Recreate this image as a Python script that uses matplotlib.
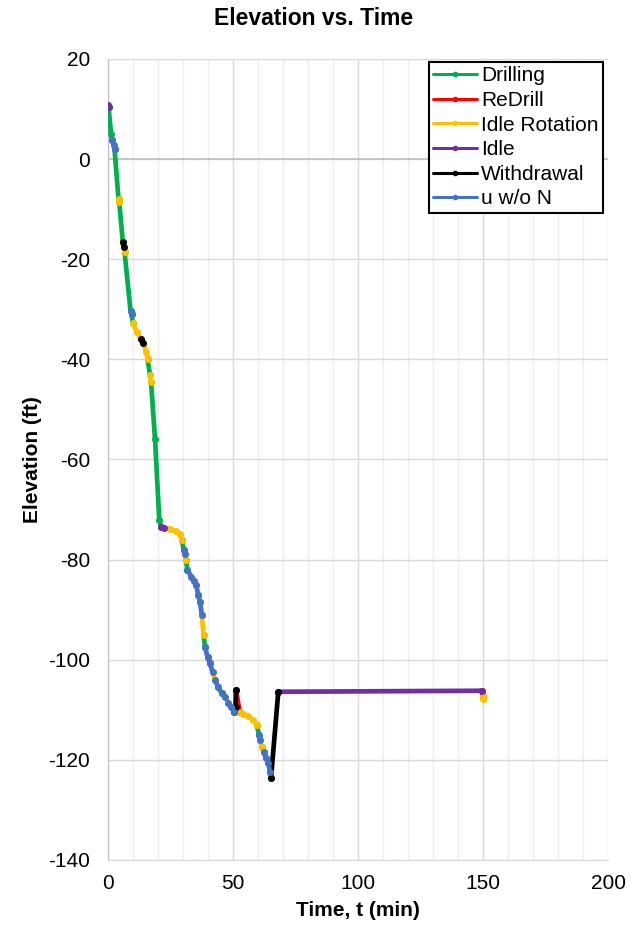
import numpy as np
import matplotlib
matplotlib.use("Agg")
import matplotlib.pyplot as plt
from matplotlib.ticker import MultipleLocator

plt.rcParams['font.family'] = ['Liberation Sans', 'DejaVu Sans']
plt.rcParams['axes.unicode_minus'] = False

# readings along the pile path: time (min), elevation (ft), phase of segment starting at the point
time = [0.0, 0.2, 1.2, 1.7, 2.3, 2.6, 4.2, 4.5, 5.9, 6.3, 6.6, 9.0, 9.4, 10.0, 11.5, 13.1,
        14.0, 15.3, 15.8, 16.8, 17.2, 18.8, 20.5, 21.2, 22.5, 24.8, 27.0, 28.6, 29.5,
        30.3, 30.8, 31.2, 31.7, 33.3, 34.5, 35.3, 36.0, 36.8, 37.5, 38.2, 38.8, 39.8,
        40.8, 41.8, 42.8, 44.0, 45.5, 46.8, 48.1, 49.3, 50.4, 51.0, 51.2, 52.6, 54.0,
        56.1, 58.1, 59.5, 60.4, 60.8, 61.6, 62.3, 63.2, 64.1, 64.8, 65.2, 68.1, 149.6,
        149.9, 150.1]
elev = [10.8, 10.4, 5.0, 3.8, 2.8, 2.0, -8.0, -8.6, -16.6, -17.6, -18.5, -30.3, -31.0, -32.8,
        -34.5, -36.0, -36.8, -38.5, -40.0, -43.1, -44.5, -56.0, -72.0, -73.4, -73.6,
        -73.9, -74.3, -74.9, -76.0, -78.0, -78.8, -80.0, -82.0, -83.4, -84.2, -85.0,
        -87.0, -88.5, -91.0, -95.0, -97.4, -99.5, -100.7, -102.5, -104.0, -105.5,
        -106.7, -107.5, -108.7, -109.5, -110.5, -109.5, -106.0, -110.4, -110.8, -111.3,
        -112.0, -113.0, -115.0, -116.0, -117.5, -118.5, -119.7, -120.6, -122.5, -123.6,
        -106.4, -106.2, -107.3, -107.8]
phase = ['Idle', 'Drilling', 'Drilling', 'u w/o N', 'u w/o N', 'Drilling', 'Idle Rotation',
         'Drilling', 'Withdrawal', 'Idle Rotation', 'Drilling', 'u w/o N', 'Drilling',
         'Idle Rotation', 'Idle Rotation', 'Withdrawal', 'Idle Rotation', 'Idle Rotation',
         'Drilling', 'Idle Rotation', 'Drilling', 'Drilling', 'Drilling', 'Idle',
         'Idle Rotation', 'Idle Rotation', 'Idle Rotation', 'Idle Rotation', 'Drilling',
         'u w/o N', 'Idle Rotation', 'Drilling', 'u w/o N', 'u w/o N', 'Idle Rotation',
         'u w/o N', 'Drilling', 'u w/o N', 'Idle Rotation', 'Drilling', 'u w/o N', 'Idle',
         'u w/o N', 'Idle Rotation', 'u w/o N', 'Drilling', 'u w/o N', 'Idle Rotation',
         'u w/o N', 'u w/o N', 'Withdrawal', 'Withdrawal', 'ReDrill', 'Idle Rotation',
         'Idle Rotation', 'Idle Rotation', 'Idle Rotation', 'Drilling', 'u w/o N',
         'Idle Rotation', 'Drilling', 'u w/o N', 'Idle Rotation', 'u w/o N', 'Drilling',
         'Withdrawal', 'Idle', 'ReDrill', 'Idle Rotation', 'Idle Rotation']

series = ['Drilling', 'ReDrill', 'Idle Rotation', 'Idle', 'Withdrawal', 'u w/o N']
colors = ['#00B050', '#FF0000', '#FFC000', '#7030A0', '#000000', '#4472C4']

fig = plt.figure(figsize=(6.31, 9.30), dpi=100)
ax = fig.add_axes([0.1712, 0.0753, 0.7924, 0.8613])

n = len(time)
for name, col in zip(series, colors):
    xs, ys = [], []
    for i in range(n):
        if phase[i] != name:
            continue
        if xs and xs[-1] != time[i]:
            xs.append(np.nan); ys.append(np.nan)
        if not xs or xs[-1] != time[i]:
            xs.append(time[i]); ys.append(elev[i])
        if i + 1 < n:
            xs.append(time[i + 1]); ys.append(elev[i + 1])
    ax.plot(xs, ys, color=col, lw=3.4, marker='o', ms=4, label=name,
            solid_capstyle='round', zorder=3)

ax.set_xlim(0, 200)
ax.set_ylim(-140, 20)
ax.xaxis.set_major_locator(MultipleLocator(50))
ax.xaxis.set_minor_locator(MultipleLocator(10))
ax.yaxis.set_major_locator(MultipleLocator(20))
ax.grid(which='minor', axis='x', color='#EEEEEE', lw=1)
ax.grid(which='major', axis='x', color='#D9D9D9', lw=1)
ax.grid(which='major', axis='y', color='#D9D9D9', lw=1)
ax.axhline(0, color='#BFBFBF', lw=1.2, zorder=1)
ax.set_axisbelow(True)
for s in ['top', 'right']:
    ax.spines[s].set_visible(False)
ax.spines['left'].set_color('#BFBFBF')
ax.spines['bottom'].set_color('#D9D9D9')
ax.tick_params(which='both', length=0, labelsize=15)
ax.tick_params(axis='y', pad=13)
ax.tick_params(axis='x', pad=10)

fig.text(0.497, 0.980, 'Elevation vs. Time', fontsize=16.5, fontweight='bold',
         ha='center', va='center')
ax.set_xlabel('Time, t (min)', fontsize=15, fontweight='bold', labelpad=6)
ax.set_ylabel('Elevation (ft)', fontsize=15, fontweight='bold', labelpad=4)

leg = ax.legend(loc='upper right', bbox_to_anchor=(0.99, 0.996), fontsize=15,
                frameon=True, fancybox=False, edgecolor='black', framealpha=1,
                borderpad=0.2, labelspacing=0.27, handlelength=2.1, handletextpad=0.2,
                borderaxespad=0)
leg.get_frame().set_linewidth(1.5)
for h in leg.legend_handles:
    h.set_linewidth(2.2)
    h.set_markersize(3)

fig.savefig('out.png', dpi=100)
